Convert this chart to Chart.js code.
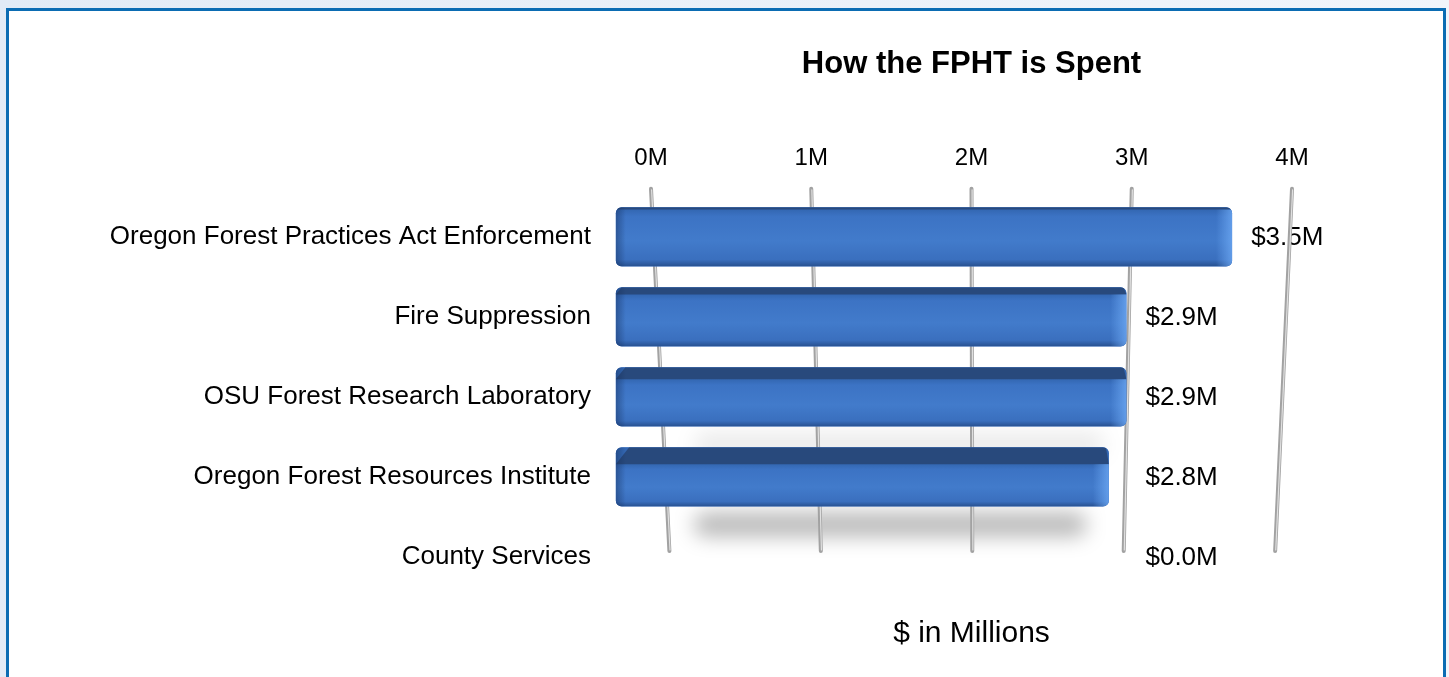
<!DOCTYPE html>
<html>
<head>
<meta charset="utf-8">
<script src="https://cdn.jsdelivr.net/npm/chart.js@4.4.1/dist/chart.umd.min.js"></script>
<style>
html, body { margin: 0; padding: 0; }
body { width: 1449px; height: 677px; overflow: hidden; position: relative;
       background: linear-gradient(90deg, #e2ebf6, #f1f5fb); }
#frame { position: absolute; left: 6px; top: 8px; width: 1434px; height: 700px;
         border: 3px solid #0b6cb3; border-bottom: none; background: #fff; }
#wrap { position: relative; width: 1434px; height: 666px; }
</style>
</head>
<body>
<div id="frame"><div id="wrap"><canvas id="chart"></canvas></div></div>
<script>
const categories = [
  'Oregon Forest Practices Act Enforcement',
  'Fire Suppression',
  'OSU Forest Research Laboratory',
  'Oregon Forest Resources Institute',
  'County Services'
]
const spending = [3.5, 2.9, 2.9, 2.8, 0.0]   // $ millions
const tickValues = [0, 1, 2, 3, 4]
const tickLabels = ['0M', '1M', '2M', '3M', '4M']

Chart.defaults.font.family = '"Liberation Sans", Arial, Helvetica, sans-serif'
Chart.defaults.color = '#000'

// fake 3D: back wall rods, floor shadow, value labels, shaded bars
const look3d = {
  id: 'look3d',
  beforeDatasetsDraw(chart) {
    const {ctx, chartArea: a, scales} = chart
    const meta = chart.getDatasetMeta(0)
    const xb = scales.xb, y = scales.y

    // value labels (rods cross over them, like the original)
    const sorted = [...spending].sort((p, q) => q - p)
    ctx.save()
    ctx.font = '26px "Liberation Sans", Arial, sans-serif'
    ctx.fillStyle = '#000'
    ctx.textBaseline = 'middle'
    spending.forEach((v, i) => {
      const col = v === sorted[0] ? sorted[0] : sorted[1]
      const lx = xb.getPixelForValue(col) + 19
      ctx.fillText('$' + v.toFixed(1) + 'M', lx, y.getPixelForValue(i) + 1)
    })
    ctx.restore()

    // floor shadows, stronger for the rows nearer the floor
    meta.data.forEach((bar, i) => {
      if (!spending[i]) return
      const p = bar.getProps(['x', 'y', 'base', 'height'], true)
      const alpha = 0.28 * Math.pow(i / 3, 3)
      if (alpha < 0.02) return
      ctx.save()
      ctx.filter = 'blur(10px)'
      ctx.fillStyle = 'rgba(0,0,0,' + alpha + ')'
      ctx.beginPath()
      ctx.roundRect(p.base + 78, p.y + p.height / 2 + 6, p.x - p.base - 100, 24, 12)
      ctx.fill()
      ctx.restore()
    })

    // grid rods, leaning toward the middle
    const vx = (a.left + a.right) / 2 + 14
    tickValues.forEach(v => {
      const top = scales.x.getPixelForValue(v)
      const bot = top + (vx - top) * 0.055
      ctx.save()
      ctx.lineCap = 'round'
      ctx.strokeStyle = '#a2a2a2'
      ctx.lineWidth = 4
      ctx.beginPath(); ctx.moveTo(top, a.top - 8); ctx.lineTo(bot, a.bottom - 46); ctx.stroke()
      ctx.strokeStyle = '#e0e0e0'
      ctx.lineWidth = 1.2
      ctx.beginPath(); ctx.moveTo(top + 0.6, a.top - 7); ctx.lineTo(bot + 0.6, a.bottom - 47); ctx.stroke()
      ctx.restore()
    })
  },
  afterDatasetsDraw(chart) {
    const {ctx, chartArea: a} = chart
    const meta = chart.getDatasetMeta(0)
    meta.data.forEach((bar, i) => {
      if (!spending[i]) return
      const p = bar.getProps(['x', 'y', 'base', 'height'], true)
      const l = p.base, r = p.x, t = p.y - p.height / 2, b = p.y + p.height / 2
      const tf = Math.max(2, (p.y - a.top) * 0.06)
      ctx.save()
      ctx.beginPath()
      ctx.roundRect(l, t, r - l, b - t, 6)
      ctx.clip()
      // front face
      const g = ctx.createLinearGradient(0, t + tf, 0, b)
      g.addColorStop(0, '#3367b2')
      g.addColorStop(0.12, '#3c73c4')
      g.addColorStop(0.55, '#427bcb')
      g.addColorStop(0.88, '#3a6fbe')
      g.addColorStop(1, '#27508f')
      ctx.fillStyle = g
      ctx.fillRect(l, t, r - l, b - t)
      // top face
      ctx.fillStyle = '#28497c'
      ctx.beginPath()
      ctx.moveTo(l + tf * 0.8, t)
      ctx.lineTo(r - 3, t)
      ctx.lineTo(r, t + tf)
      ctx.lineTo(l, t + tf)
      ctx.closePath()
      ctx.fill()
      // lit right end, darker left end
      const e = ctx.createLinearGradient(r - 16, 0, r, 0)
      e.addColorStop(0, 'rgba(110,170,245,0)')
      e.addColorStop(1, 'rgba(110,170,245,0.75)')
      ctx.fillStyle = e
      ctx.fillRect(r - 16, t + tf, 16, b - t - tf)
      const s = ctx.createLinearGradient(l, 0, l + 10, 0)
      s.addColorStop(0, 'rgba(20,45,90,0.45)')
      s.addColorStop(1, 'rgba(20,45,90,0)')
      ctx.fillStyle = s
      ctx.fillRect(l, t, 10, b - t)
      ctx.restore()
    })
  }
}

new Chart(document.getElementById('chart'), {
  type: 'bar',
  data: {
    labels: categories,
    datasets: [{
      label: 'Spending',
      data: spending,
      xAxisID: 'xb',
      yAxisID: 'y',
      backgroundColor: '#3c73c4',
      borderRadius: 6,
      borderSkipped: false,
      categoryPercentage: 1,
      barPercentage: 0.74,
      clip: false
    }]
  },
  options: {
    indexAxis: 'y',
    responsive: true,
    maintainAspectRatio: false,
    animation: false,
    layout: { padding: { top: 34.4, right: 151, bottom: 25, left: 0 } },
    plugins: {
      legend: { display: false },
      tooltip: { enabled: false },
      title: {
        display: true,
        fullSize: false,
        text: 'How the FPHT is Spent',
        color: '#000',
        font: { size: 31, weight: 'bold' },
        padding: { top: 0, bottom: 37.4 }
      },
      subtitle: {
        display: true,
        position: 'bottom',
        fullSize: false,
        text: '$ in Millions',
        color: '#000',
        font: { size: 30, weight: 'normal' },
        padding: { top: 19, bottom: 0 }
      }
    },
    scales: {
      x: {
        type: 'linear',
        position: 'top',
        min: 0,
        max: 4,
        grid: { display: false, drawTicks: false },
        border: { display: false },
        ticks: {
          stepSize: 1,
          padding: 24,
          color: '#000',
          font: { size: 24 },
          callback: v => tickLabels[tickValues.indexOf(v)]
        }
      },
      // bars sit in front of the back wall, so they use a slightly wider scale
      xb: { type: 'linear', display: false, min: 0.2, max: 3.84 },
      y: {
        type: 'category',
        grid: { display: false, drawTicks: false },
        border: { display: false },
        ticks: { padding: 60, color: '#000', font: { size: 26 } },
        afterFit: s => { s.width = 642 }
      }
    }
  },
  plugins: [look3d]
})
</script>
</body>
</html>
